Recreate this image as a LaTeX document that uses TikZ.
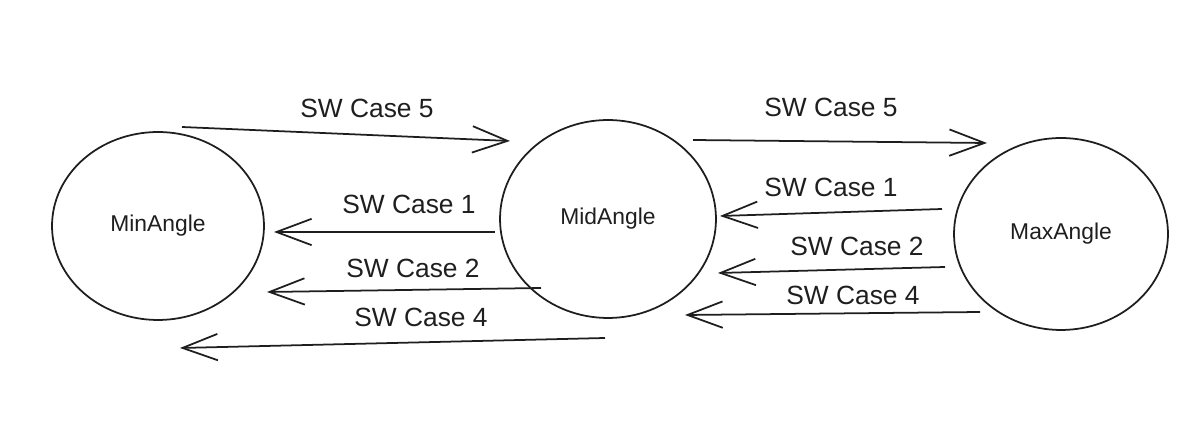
\documentclass[tikz,border=0pt]{standalone}
\usepackage{fontspec}
\setmainfont{Liberation Sans}
\usetikzlibrary{arrows.meta,shapes.geometric}
\definecolor{sketchink}{HTML}{1E1E1E}

\begin{document}
\begin{tikzpicture}[
  x=0.02cm, y=-0.02cm,
  state/.style={ellipse, draw=sketchink, line width=1pt, inner sep=0pt,
                font=\fontsize{13}{15}\selectfont, text=sketchink},
  flow/.style={-{Straight Barb[length=20pt, width=15pt]}, sketchink, line width=1pt},
  case/.style={font=\fontsize{15}{18}\selectfont, text=sketchink},
]
  \useasboundingbox (0,0) rectangle (1201,445);

  \node[state, minimum width=4.24cm, minimum height=3.76cm] (min) at (158,226) {MinAngle};
  \node[state, minimum width=4.32cm, minimum height=3.96cm] (mid) at (608,219) {MidAngle};
  \node[state, minimum width=4.28cm, minimum height=3.84cm] (max) at (1061,234) {MaxAngle};

  % arrow ends between the states
  \coordinate (minfive)  at (182,127);
  \coordinate (midfive)  at (510,141);
  \coordinate (midone)   at (495,232);
  \coordinate (minone)   at (274,232);
  \coordinate (midtwo)   at (541,288);
  \coordinate (mintwo)   at (267,292);
  \coordinate (midfour)  at (605,338);
  \coordinate (minfour)  at (180,348);
  \coordinate (midfiveR) at (693,140);
  \coordinate (maxfive)  at (987,143);
  \coordinate (maxone)   at (942,209);
  \coordinate (midoneR)  at (720,216);
  \coordinate (maxtwo)   at (945,267);
  \coordinate (midtwoR)  at (718,273);
  \coordinate (maxfour)  at (980,312);
  \coordinate (midfourR) at (685,315);

  \draw[flow] (minfive) -- (midfive);
  \draw[flow] (midone) -- (minone);
  \draw[flow] (midtwo) -- (mintwo);
  \draw[flow] (midfour) -- (minfour);
  \draw[flow] (midfiveR) -- (maxfive);
  \draw[flow] (maxone) -- (midoneR);
  \draw[flow] (maxtwo) -- (midtwoR);
  \draw[flow] (maxfour) -- (midfourR);

  \node[case] (lfive) at (367,108) {SW Case 5};
  \node[case] (lone)  at (409,204) {SW Case 1};
  \node[case] (ltwo)  at (413,268) {SW Case 2};
  \node[case] (lfour) at (421,317) {SW Case 4};
  \node[case] (rfive) at (831,107) {SW Case 5};
  \node[case] (rone)  at (831,187) {SW Case 1};
  \node[case] (rtwo)  at (857,246) {SW Case 2};
  \node[case] (rfour) at (853,295) {SW Case 4};
\end{tikzpicture}
\end{document}
